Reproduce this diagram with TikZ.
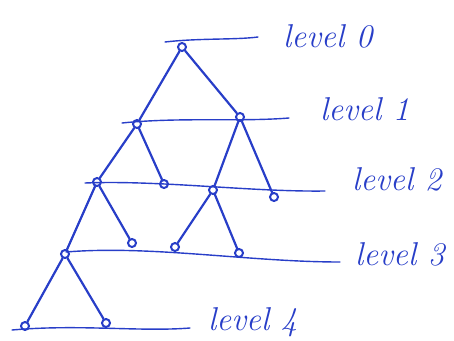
\documentclass[tikz,border=0pt]{standalone}
\usepackage{fontspec}
\begin{document}
\begin{tikzpicture}[x=1pt,y=-1pt,
  ink/.style={draw=inkblue,line width=2.2pt,line cap=round},
  vtx/.style={circle,draw=inkblue,line width=2pt,inner sep=0pt,minimum size=8pt},
  lvl/.style={draw=inkblue,line width=1.4pt,line cap=round},
  lab/.style={anchor=base west,text=inkblue,font=\fontsize{33}{38}\selectfont\itshape,inner sep=0pt}]
\definecolor{inkblue}{RGB}{40,62,200}
\useasboundingbox (0,0) rectangle (454,340);
% level lines
\coordinate (l0a) at (165,42); \coordinate (l0b) at (258,37);
\coordinate (l1a) at (122,123); \coordinate (l1b) at (289,118);
\coordinate (l2a) at (85,183); \coordinate (l2b) at (325,191);
\coordinate (l3a) at (66,252); \coordinate (l3b) at (340,262);
\coordinate (l4a) at (12,330); \coordinate (l4b) at (190,328);
\draw[lvl] (l0a) .. controls (200,38) and (235,40) .. (l0b);
\draw[lvl] (l1a) .. controls (180,117) and (240,122) .. (l1b);
\draw[lvl] (l2a) .. controls (160,180) and (250,192) .. (l2b);
\draw[lvl] (l3a) .. controls (150,245) and (250,262) .. (l3b);
\draw[lvl] (l4a) .. controls (80,324) and (140,332) .. (l4b);
% nodes
\node[vtx] (r) at (182,47) {};
\node[vtx] (a) at (137,124) {};
\node[vtx] (b) at (240,117) {};
\node[vtx] (c) at (97,182) {};
\node[vtx] (d) at (164,184) {};
\node[vtx] (e) at (213,190) {};
\node[vtx] (f) at (274,197) {};
\node[vtx] (g) at (65,254) {};
\node[vtx] (h) at (132,243) {};
\node[vtx] (i) at (175,247) {};
\node[vtx] (j) at (239,253) {};
\node[vtx] (k) at (25,326) {};
\node[vtx] (l) at (106,323) {};
% edges
\draw[ink] (r) -- (a);
\draw[ink] (r) -- (b);
\draw[ink] (a) -- (c);
\draw[ink] (a) -- (d);
\draw[ink] (b) -- (e);
\draw[ink] (b) -- (f);
\draw[ink] (c) -- (g);
\draw[ink] (c) -- (h);
\draw[ink] (e) -- (i);
\draw[ink] (e) -- (j);
\draw[ink] (g) -- (k);
\draw[ink] (g) -- (l);
% labels
\node[lab] (t0) at (283,47) {level 0};
\node[lab] (t1) at (320,120) {level 1};
\node[lab] (t2) at (352,190) {level 2};
\node[lab] (t3) at (355,265) {level 3};
\node[lab] (t4) at (208,330) {level 4};
\end{tikzpicture}
\end{document}
